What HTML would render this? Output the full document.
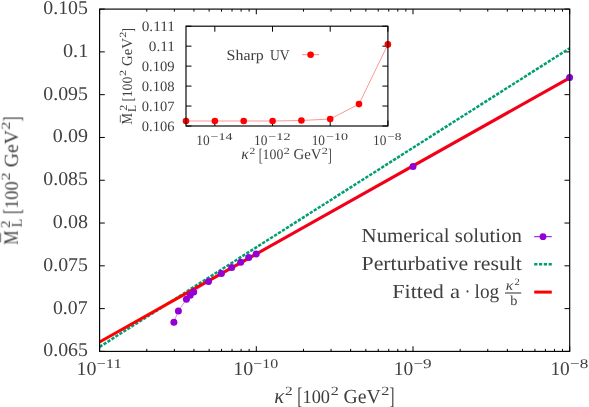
<!DOCTYPE html>
<html><head><meta charset="utf-8"><title>plot</title>
<style>
html,body{margin:0;padding:0;background:#fff;}
body{width:589px;height:407px;overflow:hidden;}
svg{display:block;}
text{font-family:"Liberation Serif",serif;fill:#2a2a2a;text-rendering:geometricPrecision;}
.i{font-style:italic;}
</style></head><body>
<svg width="589" height="407" viewBox="0 0 589 407">
<rect width="589" height="407" fill="#fff"/>
<path d="M99.60 351.40h5.2M569.70 351.40h-5.2M99.60 308.61h5.2M569.70 308.61h-5.2M99.60 265.82h5.2M569.70 265.82h-5.2M99.60 223.04h5.2M569.70 223.04h-5.2M99.60 180.25h5.2M569.70 180.25h-5.2M99.60 137.46h5.2M569.70 137.46h-5.2M99.60 94.67h5.2M569.70 94.67h-5.2M99.60 51.89h5.2M569.70 51.89h-5.2M99.60 9.10h5.2M569.70 9.10h-5.2M99.60 351.40v-5.2M99.60 9.10v5.2M146.77 351.40v-2.5M146.77 9.10v2.5M174.36 351.40v-2.5M174.36 9.10v2.5M193.94 351.40v-2.5M193.94 9.10v2.5M209.13 351.40v-2.5M209.13 9.10v2.5M221.54 351.40v-2.5M221.54 9.10v2.5M232.03 351.40v-2.5M232.03 9.10v2.5M241.11 351.40v-2.5M241.11 9.10v2.5M249.13 351.40v-2.5M249.13 9.10v2.5M256.30 351.40v-5.2M256.30 9.10v5.2M303.47 351.40v-2.5M303.47 9.10v2.5M331.06 351.40v-2.5M331.06 9.10v2.5M350.64 351.40v-2.5M350.64 9.10v2.5M365.83 351.40v-2.5M365.83 9.10v2.5M378.24 351.40v-2.5M378.24 9.10v2.5M388.73 351.40v-2.5M388.73 9.10v2.5M397.81 351.40v-2.5M397.81 9.10v2.5M405.83 351.40v-2.5M405.83 9.10v2.5M413.00 351.40v-5.2M413.00 9.10v5.2M460.17 351.40v-2.5M460.17 9.10v2.5M487.76 351.40v-2.5M487.76 9.10v2.5M507.34 351.40v-2.5M507.34 9.10v2.5M522.53 351.40v-2.5M522.53 9.10v2.5M534.94 351.40v-2.5M534.94 9.10v2.5M545.43 351.40v-2.5M545.43 9.10v2.5M554.51 351.40v-2.5M554.51 9.10v2.5M562.53 351.40v-2.5M562.53 9.10v2.5M569.70 351.40v-5.2M569.70 9.10v5.2" stroke="#000" stroke-width="1.0" fill="none"/>
<path d="M99.60 346.9L569.70 48.2" stroke="#009e73" stroke-width="2.5" stroke-dasharray="3.3 1.4" fill="none"/>
<path d="M99.60 342.0L569.70 77.8" stroke="#ff0000" stroke-width="3.1" fill="none"/>
<path d="M173.9 322.2L178.4 310.9L186.4 299.3L190.2 295.3L193.7 292.1L208.5 281.5L221.4 273.5L231.7 267.4L240.7 262.2L248.7 257.6L256.2 253.9L413.0 166.6L569.6 77.5" stroke="#9400d3" stroke-opacity="0.6" stroke-width="0.7" fill="none"/>
<circle cx="173.9" cy="322.2" r="3.5" fill="#9400d3"/>
<circle cx="178.4" cy="310.9" r="3.5" fill="#9400d3"/>
<circle cx="186.4" cy="299.3" r="3.5" fill="#9400d3"/>
<circle cx="190.2" cy="295.3" r="3.5" fill="#9400d3"/>
<circle cx="193.7" cy="292.1" r="3.5" fill="#9400d3"/>
<circle cx="208.5" cy="281.5" r="3.5" fill="#9400d3"/>
<circle cx="221.4" cy="273.5" r="3.5" fill="#9400d3"/>
<circle cx="231.7" cy="267.4" r="3.5" fill="#9400d3"/>
<circle cx="240.7" cy="262.2" r="3.5" fill="#9400d3"/>
<circle cx="248.7" cy="257.6" r="3.5" fill="#9400d3"/>
<circle cx="256.2" cy="253.9" r="3.5" fill="#9400d3"/>
<circle cx="413.0" cy="166.6" r="3.5" fill="#9400d3"/>
<circle cx="569.6" cy="77.5" r="3.5" fill="#9400d3"/>
<rect x="99.60" y="9.10" width="470.10" height="342.30" fill="none" stroke="#000" stroke-width="1.15"/>
<path d="M534.2 236.7H551.8" stroke="#9400d3" stroke-width="1.0"/><circle cx="543" cy="236.7" r="3.4" fill="#9400d3"/>
<path d="M534.2 264.2H551.8" stroke="#009e73" stroke-width="2.5" stroke-dasharray="3.2 1.6"/>
<path d="M534.2 292.1H551.8" stroke="#ff0000" stroke-width="3"/>
<path d="M505 293.0H521.2" stroke="#2a2a2a" stroke-width="1.0"/>
<path d="M186.00 126.00h5.5M387.90 126.00h-5.5M186.00 106.04h5.5M387.90 106.04h-5.5M186.00 86.08h5.5M387.90 86.08h-5.5M186.00 66.12h5.5M387.90 66.12h-5.5M186.00 46.16h5.5M387.90 46.16h-5.5M186.00 26.20h5.5M387.90 26.20h-5.5M214.84 126.00v-5.5M214.84 26.20v5.5M272.53 126.00v-5.5M272.53 26.20v5.5M330.21 126.00v-5.5M330.21 26.20v5.5M387.90 126.00v-5.5M387.90 26.20v5.5" stroke="#000" stroke-width="1.0" fill="none"/>
<path d="M186.0 121.0L214.9 121.0L243.7 121.0L272.6 121.0L301.4 120.5L330.2 119.0L359.0 104.1L387.9 44.4" stroke="#ff0000" stroke-opacity="0.6" stroke-width="0.7" fill="none"/>
<circle cx="186.0" cy="121.0" r="3.3" fill="#ff0000"/>
<circle cx="214.9" cy="121.0" r="3.3" fill="#ff0000"/>
<circle cx="243.7" cy="121.0" r="3.3" fill="#ff0000"/>
<circle cx="272.6" cy="121.0" r="3.3" fill="#ff0000"/>
<circle cx="301.4" cy="120.5" r="3.3" fill="#ff0000"/>
<circle cx="330.2" cy="119.0" r="3.3" fill="#ff0000"/>
<circle cx="359.0" cy="104.1" r="3.3" fill="#ff0000"/>
<circle cx="387.9" cy="44.4" r="3.3" fill="#ff0000"/>
<rect x="186.00" y="26.20" width="201.90" height="99.80" fill="none" stroke="#000" stroke-width="1.15"/>
<path d="M302.2 54.7H319" stroke="#ff0000" stroke-opacity="0.6" stroke-width="0.8"/><circle cx="310.6" cy="54.7" r="3.3" fill="#ff0000"/>
<g opacity="0.9">
<g><text font-size="19.5" transform="translate(43.28 356.40) scale(1.0174 1)">0.065</text><text font-size="19.5" transform="translate(52.88 313.61) scale(1.0177 1)">0.07</text><text font-size="19.5" transform="translate(43.28 270.82) scale(1.0174 1)">0.075</text><text font-size="19.5" transform="translate(52.87 228.04) scale(1.0272 1)">0.08</text><text font-size="19.5" transform="translate(43.28 185.25) scale(1.0174 1)">0.085</text><text font-size="19.5" transform="translate(52.87 142.46) scale(1.0272 1)">0.09</text><text font-size="19.5" transform="translate(43.28 99.67) scale(1.0174 1)">0.095</text><text font-size="19.5" transform="translate(62.97 56.89) scale(1.0371 1)">0.1</text><text font-size="19.5" transform="translate(43.28 14.10) scale(1.0174 1)">0.105</text><text font-size="19.5" transform="translate(76.54 374.80) scale(1.0249 1)">10</text><text font-size="13.3" transform="translate(96.53 367.70) scale(1.2382 1)">−11</text><text font-size="19.5" transform="translate(233.24 374.80) scale(1.0249 1)">10</text><text font-size="13.3" transform="translate(253.26 367.70) scale(1.1942 1)">−10</text><text font-size="19.5" transform="translate(393.68 374.80) scale(0.9961 1)">10</text><text font-size="13.3" transform="translate(413.40 367.70) scale(1.2889 1)">−9</text><text font-size="19.5" transform="translate(550.38 374.80) scale(0.9961 1)">10</text><text font-size="13.3" transform="translate(570.10 367.70) scale(1.2889 1)">−8</text><text font-size="20" transform="translate(361.57 241.80) scale(1.0427 1)">Numerical solution</text><text font-size="20" transform="translate(361.56 269.50) scale(1.0896 1)">Perturbative result</text><text font-size="20" transform="translate(392.25 297.70) scale(1.1045 1)">Fitted</text><text font-size="20" transform="translate(449.99 297.70) scale(1.1323 1)">a</text><text font-size="20" transform="translate(464.67 298.20) scale(0.8178 1)">·</text><text font-size="20" transform="translate(474.60 297.70) scale(0.9626 1)">log</text><text class="i" font-size="14" transform="translate(505.81 290.40) scale(1.1124 1)">κ</text><text font-size="9.6" transform="translate(514.47 285.20) scale(1.1111 1)">2</text><text font-size="13.6" transform="translate(510.30 304.90) scale(1.0510 1)">b</text></g>
<g transform="translate(274.8 402.5)"><text class="i" font-size="21" transform="translate(-0.65 0.00) scale(0.9854 1)">κ</text><text font-size="12.6" transform="translate(10.22 -7.70) scale(1.2228 1)">2</text><text font-size="20" transform="translate(22.54 1.67) scale(0.7680 1.1852)">[</text><text font-size="19" transform="translate(27.67 0.00) scale(0.9651 1)">100</text><text font-size="12.6" transform="translate(55.90 -7.70) scale(1.2792 1)">2</text><text font-size="20" transform="translate(68.68 0.00) scale(0.9873 1)">GeV</text><text font-size="12.6" transform="translate(106.39 -7.70) scale(1.2981 1)">2</text><text font-size="20" transform="translate(114.73 1.67) scale(0.7467 1.1852)">]</text></g>
<g transform="translate(17.8 244.5) rotate(-90)"><path d="M2.2 -17.3H11.4" stroke="#2a2a2a" stroke-width="0.9" fill="none"/><text font-size="20.5" transform="translate(-0.25 0.00) scale(0.7833 1)">M</text><text font-size="13.3" transform="translate(16.53 -8.20) scale(1.1406 1)">2</text><text font-size="15.0" transform="translate(17.18 4.40) scale(0.9509 1)">L</text><text font-size="20" transform="translate(30.54 1.67) scale(0.7680 1.1852)">[</text><text font-size="19" transform="translate(35.67 0.00) scale(0.9651 1)">100</text><text font-size="12.6" transform="translate(63.90 -7.70) scale(1.2792 1)">2</text><text font-size="20" transform="translate(77.18 0.00) scale(0.9846 1)">GeV</text><text font-size="12.6" transform="translate(114.69 -7.70) scale(1.2981 1)">2</text><text font-size="20" transform="translate(123.12 1.67) scale(0.7680 1.1852)">]</text></g>
<g><text font-size="14.3" transform="translate(141.75 131.20) scale(1.0157 1)">0.106</text><text font-size="14.3" transform="translate(141.75 111.24) scale(1.0157 1)">0.107</text><text font-size="14.3" transform="translate(141.74 91.28) scale(1.0230 1)">0.108</text><text font-size="14.3" transform="translate(141.74 71.32) scale(1.0230 1)">0.109</text><text font-size="14.3" transform="translate(148.82 51.36) scale(1.0651 1)">0.11</text><text font-size="14.3" transform="translate(141.72 31.40) scale(1.0668 1)">0.111</text><text font-size="14.3" transform="translate(196.30 145.00) scale(0.9344 1)">10</text><text font-size="10.3" transform="translate(210.59 139.90) scale(1.3514 1)">−14</text><text font-size="14.3" transform="translate(253.98 145.00) scale(0.9344 1)">10</text><text font-size="10.3" transform="translate(268.26 139.90) scale(1.3802 1)">−12</text><text font-size="14.3" transform="translate(311.67 145.00) scale(0.9344 1)">10</text><text font-size="10.3" transform="translate(325.95 139.90) scale(1.3656 1)">−10</text><text font-size="14.3" transform="translate(372.96 145.00) scale(0.9344 1)">10</text><text font-size="10.3" transform="translate(387.17 139.90) scale(1.3000 1)">−8</text><text font-size="14.8" transform="translate(226.60 59.80) scale(1.0772 1)">Sharp</text><text font-size="14.8" transform="translate(269.89 59.80) scale(0.9197 1)">UV</text></g>
<g transform="translate(241.8 159.4) scale(0.752)"><text class="i" font-size="21" transform="translate(-0.65 0.00) scale(0.9854 1)">κ</text><text font-size="12.6" transform="translate(10.22 -7.70) scale(1.2228 1)">2</text><text font-size="20" transform="translate(22.54 1.67) scale(0.7680 1.1852)">[</text><text font-size="19" transform="translate(27.67 0.00) scale(0.9651 1)">100</text><text font-size="12.6" transform="translate(55.90 -7.70) scale(1.2792 1)">2</text><text font-size="20" transform="translate(68.68 0.00) scale(0.9873 1)">GeV</text><text font-size="12.6" transform="translate(106.39 -7.70) scale(1.2981 1)">2</text><text font-size="20" transform="translate(114.73 1.67) scale(0.7467 1.1852)">]</text></g>
<g transform="translate(132.2 124.1) rotate(-90) scale(0.752)"><path d="M2.2 -15.8H11.8" stroke="#2a2a2a" stroke-width="1.0" fill="none"/><text font-size="20.5" transform="translate(-0.67 0.00) scale(0.8287 1)">M</text><text font-size="14.5" transform="translate(17.90 -6.40) scale(1.1116 1)">2</text><text font-size="16.0" transform="translate(16.16 4.60) scale(0.9600 1)">L</text><text font-size="20" transform="translate(30.54 0.70) scale(0.7680 1.0311)">[</text><text font-size="19" transform="translate(35.67 0.00) scale(0.9651 1)">100</text><text font-size="12.6" transform="translate(63.90 -7.70) scale(1.2792 1)">2</text><text font-size="20" transform="translate(77.18 0.00) scale(0.9846 1)">GeV</text><text font-size="12.6" transform="translate(114.69 -7.70) scale(1.2981 1)">2</text><text font-size="20" transform="translate(122.32 0.70) scale(0.7680 1.0311)">]</text></g>
</g>
</svg>
</body></html>
